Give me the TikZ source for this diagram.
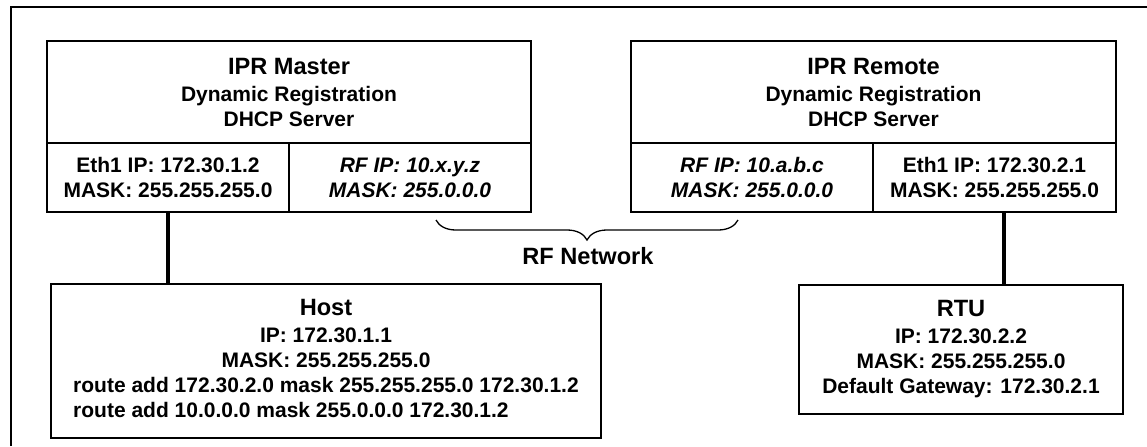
\documentclass[tikz,border=0pt]{standalone}
\usepackage{fontspec}
\setmainfont{Liberation Sans}
\usetikzlibrary{decorations.pathreplacing}

\newcommand{\titleFont}{\fontsize{11.8}{13.5}\selectfont\bfseries}
\newcommand{\bodyFont}{\fontsize{10.5}{12.5}\selectfont\bfseries}

\begin{document}
\begin{tikzpicture}[x=0.5pt, y=-0.5pt,
rectTop/.style={rectangle, draw=black, line width=0.65pt, minimum width=242pt, minimum height=51pt, inner sep=0pt, align=center, font=\bodyFont},
rectCell/.style={rectangle, draw=black, line width=0.65pt, minimum width=121pt, minimum height=34.5pt, inner sep=0pt, align=center, font=\bodyFont},
rectCellRF/.style={rectCell, font=\bodyFont\itshape},
rectEnd/.style={rectangle, draw=black, line width=0.65pt, inner sep=0pt, align=center, font=\bodyFont},
lineLink/.style={line width=2pt},
lineFrame/.style={line width=0.85pt},
braceRF/.style={decorate, decoration={brace, mirror, amplitude=10pt}, line width=0.65pt}
]

\useasboundingbox (0, 0) rectangle (1147, 446);
\draw[lineFrame] (11, 446) -- (11, 7) -- (1147, 7);

\node[rectTop] (masterTop) at (289, 92) {{\titleFont IPR Master}\\[1pt] Dynamic Registration\\ DHCP Server};
\node[rectCell] (masterEth) at (168, 177.5) {Eth1 IP: 172.30.1.2\\ MASK: 255.255.255.0};
\node[rectCellRF] (masterRF) at (410, 177.5) {RF IP: 10.x.y.z\\ MASK: 255.0.0.0};

\node[rectTop, minimum width=242.5pt] (remoteTop) at (873.5, 92) {{\titleFont IPR Remote}\\[1pt] Dynamic Registration\\ DHCP Server};
\node[rectCellRF] (remoteRF) at (752, 177.5) {RF IP: 10.a.b.c\\ MASK: 255.0.0.0};
\node[rectCell, minimum width=121.5pt] (remoteEth) at (994.5, 177.5) {Eth1 IP: 172.30.2.1\\ MASK: 255.255.255.0};

\node[rectEnd, minimum width=275pt, minimum height=77pt] (host) at (326, 361) {\begin{tabular}{@{}l@{}}
\multicolumn{1}{@{}c@{}}{\titleFont Host}\\[1pt]
\multicolumn{1}{@{}c@{}}{IP: 172.30.1.1}\\
\multicolumn{1}{@{}c@{}}{MASK: 255.255.255.0}\\
route add 172.30.2.0 mask 255.255.255.0 172.30.1.2\\
route add 10.0.0.0 mask 255.0.0.0 172.30.1.2
\end{tabular}};
\node[rectEnd, minimum width=162pt, minimum height=64.5pt] (rtu) at (961, 349.5) {{\titleFont RTU}\\[1pt] IP: 172.30.2.2\\ MASK: 255.255.255.0\\ Default Gateway: 172.30.2.1};

\node[font=\titleFont, anchor=base] (rfNetwork) at (588, 264) {RF Network};

\coordinate (braceStart) at (436, 220);
\coordinate (braceEnd) at (738, 220);
\coordinate (rtuLink) at ([xshift=4.75pt]remoteEth.south);

\draw[braceRF] (braceStart) -- (braceEnd);

\path[lineLink] (masterEth.south) edge (masterEth.south |- host.north)
                (rtuLink) edge (rtuLink |- rtu.north);

\end{tikzpicture}
\end{document}
